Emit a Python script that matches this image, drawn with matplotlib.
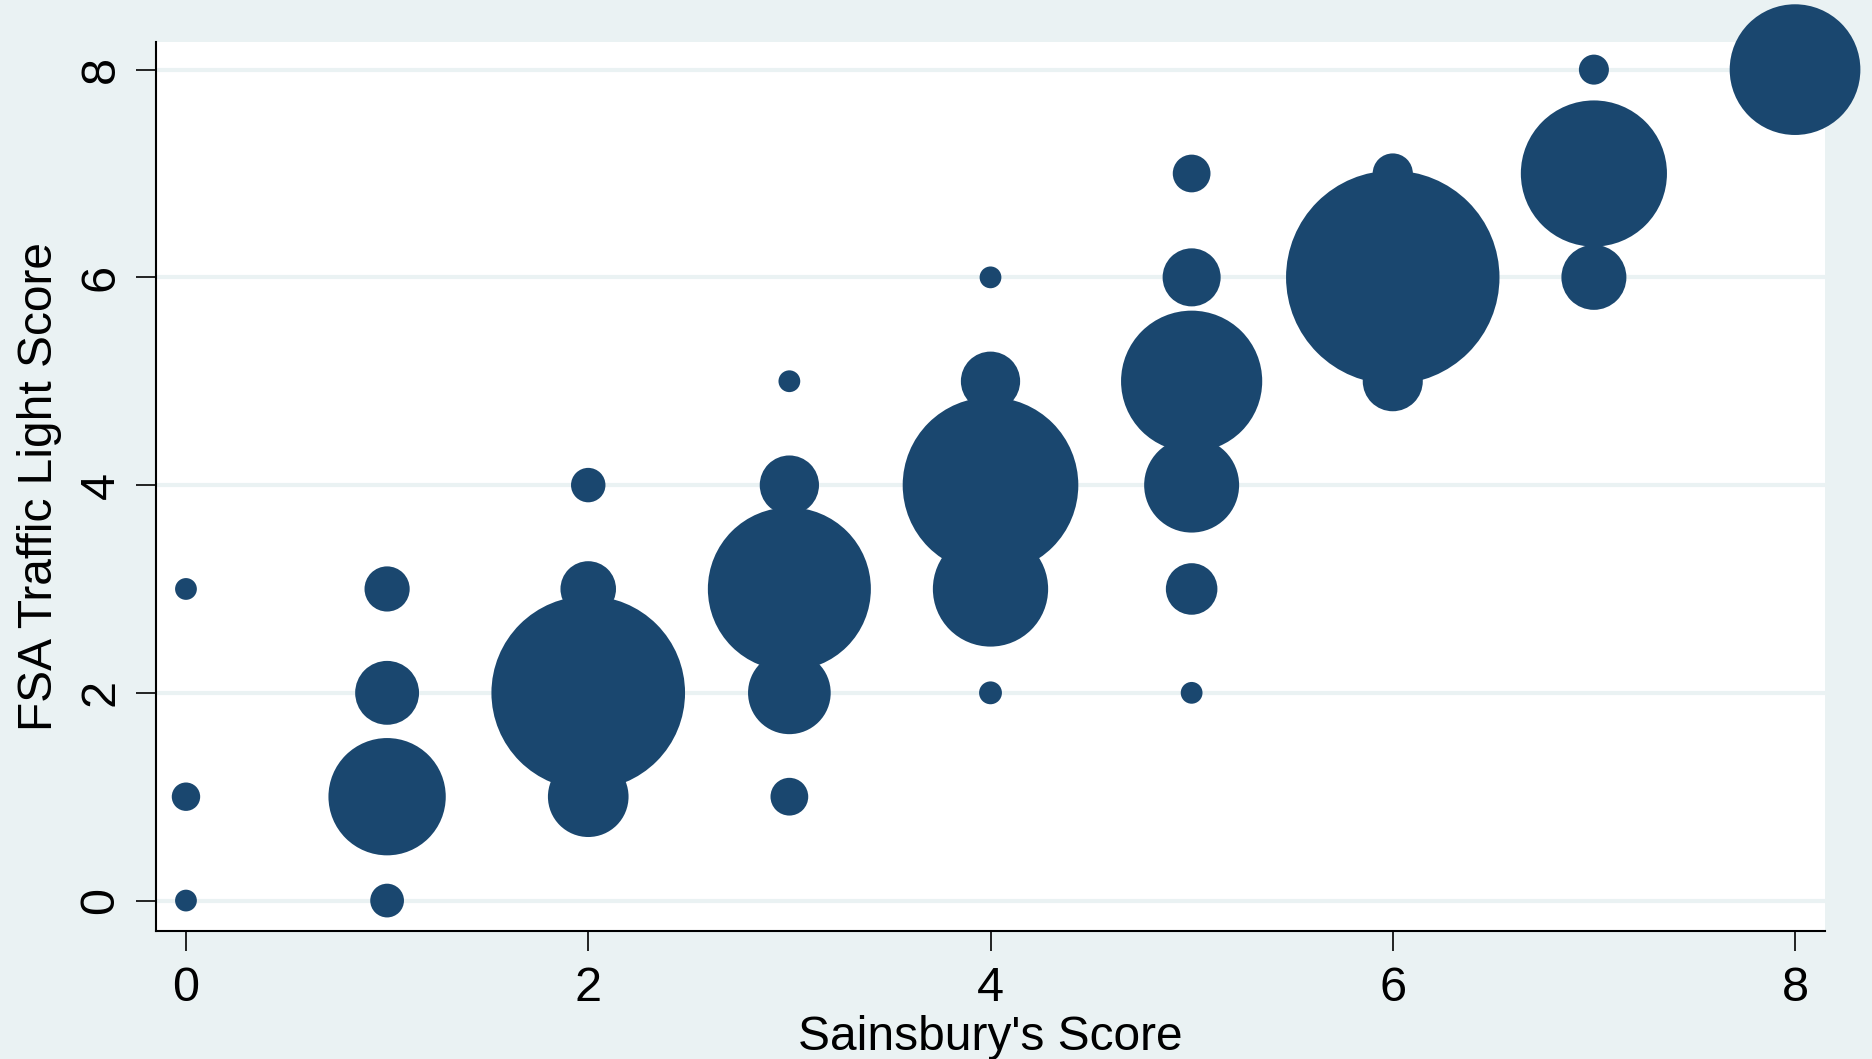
import matplotlib.pyplot as plt
import numpy as np

plt.rcParams['font.family'] = ['Liberation Sans', 'DejaVu Sans']

# bubble data: Sainsbury's score vs FSA traffic light score, weight = count
sainsbury = [0, 0, 0,
             1, 1, 1, 1,
             2, 2, 2, 2,
             3, 3, 3, 3, 3,
             4, 4, 4, 4, 4,
             5, 5, 5, 5, 5, 5,
             6, 6, 6,
             7, 7, 7,
             8]
fsa = [3, 1, 0,
       3, 2, 1, 0,
       4, 3, 2, 1,
       5, 4, 3, 2, 1,
       6, 5, 4, 3, 2,
       7, 6, 5, 4, 3, 2,
       7, 6, 5,
       8, 7, 6,
       8]
weight = [1, 1.7, 1,
          4.3, 8.6, 29, 2.4,
          2.5, 6.5, 79, 13.7,
          1, 7.4, 56, 14.4, 3,
          1, 7.4, 65, 28, 1.1,
          3, 7.1, 42, 19, 5.6, 1,
          3.4, 96, 7.6,
          1.9, 45, 8.9,
          36]
ticks = [0, 2, 4, 6, 8]

bg = '#EAF2F3'
navy = '#1A476F'

fig = plt.figure(figsize=(18.72, 10.59), dpi=100, facecolor=bg)
ax = fig.add_axes([156/1872, 1 - 931/1059, (1825-156)/1872, (931-42)/1059])
ax.set_facecolor('white')

ax.set_xlim(-0.149, 8.149)
ax.set_ylim(-0.293, 8.266)

for t in ticks:
    ax.axhline(t, color=bg, lw=3, zorder=1)

ax.scatter(sainsbury, fsa, s=np.array(weight) * 246, color=navy,
           edgecolors='none', zorder=3, clip_on=False)

for side in ['top', 'right']:
    ax.spines[side].set_visible(False)
for side in ['left', 'bottom']:
    ax.spines[side].set_linewidth(1.5)
    ax.spines[side].set_color('black')

ax.set_xticks(ticks)
ax.set_yticks(ticks)
ax.tick_params(length=14.4, width=1.2, labelsize=35, pad=11)
ax.tick_params(axis='y', labelrotation=90, pad=9)
for lab in ax.get_yticklabels():
    lab.set_va('center')

ax.set_xlabel("Sainsbury's Score", fontsize=34.5, labelpad=3)
ax.set_ylabel("FSA Traffic Light Score", fontsize=34.5, labelpad=12)

plt.savefig('out.png', dpi=100, facecolor=bg)
